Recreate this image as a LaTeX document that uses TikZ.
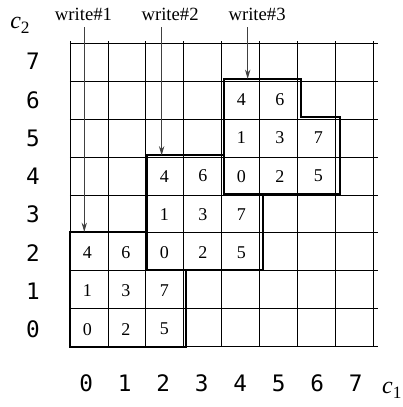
\documentclass[tikz,border=0pt]{standalone}
\usepackage{fontspec}
\setmainfont{Liberation Serif}
\newfontfamily\labfont{DejaVu Sans Mono}
\usetikzlibrary{arrows.meta}
\begin{document}
\begin{tikzpicture}[x=28.875pt,y=28.6875pt,
 gridline/.style={line width=0.6pt},
 blockline/.style={line width=1.5pt, line join=miter},
 axlab/.style={font=\labfont\fontsize{17}{17}\selectfont, inner sep=0pt},
 cellnum/.style={font=\fontsize{13.5}{13.5}\selectfont, inner sep=0pt},
 wlab/.style={font=\fontsize{14}{14}\selectfont, inner sep=0pt},
 axname/.style={font=\fontsize{18}{18}\selectfont, inner sep=0pt},
 warrow/.style={black!75, line width=0.7pt, -{Stealth[length=7pt,width=4pt]}}]
\useasboundingbox (-1.818,-1.576) rectangle (8.623,9.064);
\draw[gridline] (0,0) grid (8,8);
\foreach \b in {0,1,2} {
  \draw[blockline] ({2*\b},{2*\b+3}) -- ({2*\b+2},{2*\b+3}) -- ({2*\b+2},{2*\b+2}) -- ({2*\b+3},{2*\b+2}) -- ({2*\b+3},{2*\b}) -- ({2*\b},{2*\b}) -- cycle;
  \foreach \c/\r/\v in {0/2/4,1/2/6,0/1/1,1/1/3,2/1/7,0/0/0,1/0/2,2/0/5}
    \node[cellnum] (n\b\c\r) at ({2*\b+\c+0.45},{2*\b+\r+0.46}) {\v};
}
\foreach \i in {0,...,7} {
  \node[axlab] (r\i) at (-0.96,\i+0.45) {\i};
  \node[axlab] (c\i) at (\i+0.42,-0.95) {\i};
}
\node[axname] (cy) at (-1.30,8.40) {\textit{c}\raisebox{-0.45ex}{\fontsize{13}{13}\selectfont 2}};
\node[axname] (cx) at (8.36,-1.15) {\textit{c}\raisebox{-0.45ex}{\fontsize{13}{13}\selectfont 1}};
\node[wlab] (w1) at (0.35,8.70) {write\#1};
\node[wlab] (w2) at (2.60,8.70) {write\#2};
\node[wlab] (w3) at (4.86,8.70) {write\#3};
\coordinate (s1) at (0.371,8.35); \coordinate (e1) at (0.371,3);
\coordinate (s2) at (2.38,8.35);  \coordinate (e2) at (2.38,5);
\coordinate (s3) at (4.615,8.35); \coordinate (e3) at (4.615,7);
\draw[warrow] (s1) -- (e1);
\draw[warrow] (s2) -- (e2);
\draw[warrow] (s3) -- (e3);
\end{tikzpicture}
\end{document}
